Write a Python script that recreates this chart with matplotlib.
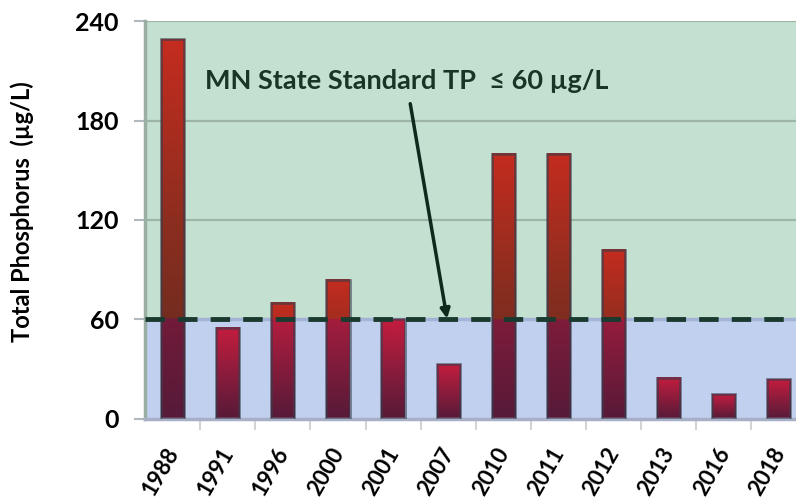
import matplotlib
matplotlib.use("Agg")
import matplotlib.pyplot as plt
import numpy as np
from matplotlib.colors import LinearSegmentedColormap
from matplotlib.transforms import ScaledTranslation

plt.rcParams["font.family"] = ["Lato", "DejaVu Sans"]

# Data
years = ["1988", "1991", "1996", "2000", "2001", "2007",
         "2010", "2011", "2012", "2013", "2016", "2018"]
tp_values = [229, 55, 70, 84, 60, 33, 160, 160, 102, 25, 15, 24]
standard = 60
y_ticks = [0, 60, 120, 180, 240]

GREEN_BG = "#c4e0d0"
BLUE_BG = "#c0d0ee"
GRID = "#9db5a5"
TEXT_DARK = "#183626"

# colours of a bar above / below the standard line (bottom -> top of bar)
cmap_above = LinearSegmentedColormap.from_list("above", ["#5c2a1c", "#8a2e20", "#c42c1e"])
cmap_below = LinearSegmentedColormap.from_list("below", ["#561a38", "#8c1c3c", "#c41c3e"])

fig = plt.figure(figsize=(7.96, 5.04), dpi=100)
ax = fig.add_axes([0.1822, 0.1687, 1 - 0.1822, 0.9583 - 0.1687])

x = np.arange(len(years))
bar_w = 0.42

# background zones
ax.axhspan(standard, 240, color=GREEN_BG, zorder=0, lw=0)
ax.axhspan(0, standard, color=BLUE_BG, zorder=0, lw=0)
for yv in [120, 180, 240]:
    ax.axhline(yv, color=GRID, lw=1.6, zorder=1)
ax.axhline(standard, color="#a4b4d8", lw=2.5, zorder=1)

# gradient-filled bars
for xi, h in zip(x, tp_values):
    ys = np.linspace(h, 0, 200)
    t = ys / h
    rows = np.where((ys > standard)[:, None], cmap_above(t), cmap_below(t))
    img = rows[:, None, :]
    ax.imshow(img, extent=[xi - bar_w / 2, xi + bar_w / 2, 0, h],
              aspect="auto", interpolation="bilinear", zorder=2)
ax.bar(x, tp_values, bar_w, facecolor="none",
       edgecolor=(0.22, 0.24, 0.3, 0.6), lw=2, zorder=3)

# standard line
ax.plot([-0.5, 11.5], [standard, standard], color="#1a3a30", lw=3.5,
        dashes=(4, 2.7), zorder=4)

ax.annotate("MN State Standard TP  ≤ 60 µg/L", xy=(4.98, 60.5), xytext=(4.24, 204),
            fontsize=19.5, fontweight="bold", color=TEXT_DARK,
            ha="center", va="center",
            arrowprops=dict(arrowstyle="-|>", color="#0e2a1c", lw=2.5,
                            mutation_scale=14, shrinkA=6, shrinkB=0),
            zorder=5)

ax.set_xlim(-0.5, 11.31)
ax.set_ylim(0, 240)

ax.set_yticks(y_ticks)
ax.set_yticklabels([str(v) for v in y_ticks], fontsize=18, fontweight="bold")
ax.tick_params(axis="y", length=8, width=1.5, color="#b0b8c0", pad=11)

ax.set_xticks(x)
ax.set_xticks(x[:-1] + 0.5, minor=True)
ax.tick_params(axis="x", which="major", length=0, pad=18)
ax.tick_params(axis="x", which="minor", length=8, width=1.5, color="#d4d4d4")
labels = ax.set_xticklabels(years, rotation=60, fontsize=16, fontweight="bold",
                            ha="right")
offset = ScaledTranslation(10 / 100, 0, fig.dpi_scale_trans)
for lab in labels:
    lab.set_transform(lab.get_transform() + offset)

ax.set_ylabel("Total Phosphorus  (µg/L)", fontsize=17, fontweight="bold")
ax.yaxis.set_label_coords(-0.17, 0.52)

for side in ["top", "right"]:
    ax.spines[side].set_visible(False)
ax.spines["left"].set_color("#9aaea4")
ax.spines["left"].set_linewidth(2.5)
ax.spines["bottom"].set_color("#a8b0c8")
ax.spines["bottom"].set_linewidth(2.5)

fig.savefig("out.png", dpi=100)
